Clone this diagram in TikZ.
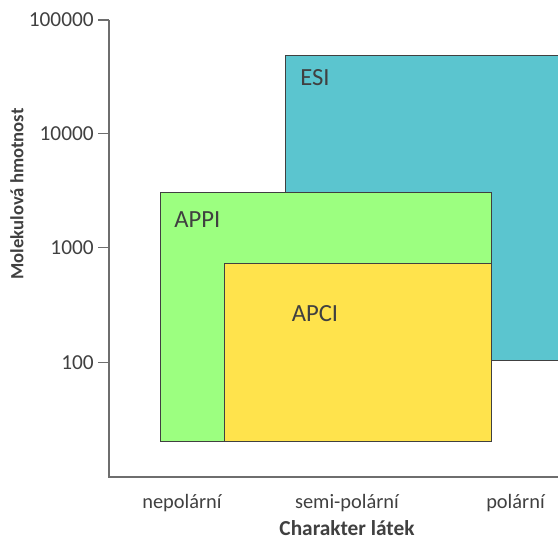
\documentclass[tikz,border=0pt]{standalone}
\usepackage{fontspec}
\setmainfont{Carlito}
\definecolor{esiteal}{RGB}{91,197,207}
\definecolor{appigreen}{RGB}{156,255,128}
\definecolor{apciyellow}{RGB}{255,227,76}
\definecolor{boxline}{RGB}{64,64,64}
\definecolor{axisgray}{RGB}{110,110,110}
\definecolor{textgray}{RGB}{64,64,64}
\tikzset{
  box/.style={draw=boxline, line width=1.1pt},
  axis/.style={draw=axisgray, line width=1.1pt},
  ticklabel/.style={anchor=east, inner sep=0.75pt, font=\fontsize{16}{18}\selectfont, text=textgray},
  catlabel/.style={anchor=base, inner sep=0.75pt, font=\fontsize{15.3}{17}\selectfont, text=textgray},
  boxlabel/.style={anchor=base west, inner sep=0.75pt, font=\fontsize{18.5}{21}\selectfont, text=textgray}
}
\begin{document}
\begin{tikzpicture}[x=0.75pt,y=0.75pt,yscale=-1,xscale=1]
\useasboundingbox (0,0) rectangle (558,539);

%Shape: Rectangle ESI (open on the right)
\fill [esiteal] (285.5,55.5) rectangle (558,360.5);
\draw [box] (558,55.5) -- (285.5,55.5) -- (285.5,360.5) -- (558,360.5);
%Shape: Rectangle APPI
\draw [box, fill=appigreen] (160.5,192.5) rectangle (491.5,441.5);
%Shape: Rectangle APCI
\draw [box, fill=apciyellow] (224.5,263.5) rectangle (491.5,441.5);

%Axes
\coordinate (ytop) at (109,20);
\coordinate (origin) at (109,477);
\coordinate (xend) at (558,477);
\draw [axis] (ytop) -- (origin) -- (xend);
%Ticks
\foreach \val/\ypos in {100000/20,10000/133.5,1000/247.5,100/362.5}{
  \draw [axis] (98,\ypos) -- (109,\ypos);
  \node (tick\val) [ticklabel] at (95,\ypos) {\val};
}

% Text Node
\node (esi) [boxlabel] at (299,85.5) {ESI};
% Text Node
\node (appi) [boxlabel] at (173,227.5) {APPI};
% Text Node
\node (apci) [boxlabel] at (290.5,321) {APCI};

% Text Node
\node (nepol) [catlabel] at (182,508) {nepolární};
% Text Node
\node (semipol) [catlabel] at (347,508) {semi-polární};
% Text Node
\node (pol) [catlabel] at (515.5,508) {polární};
% Text Node
\node (xtitle) [catlabel, font=\bfseries\fontsize{16}{18}\selectfont] at (347,535.5) {Charakter látek};
% Text Node
\node (ytitle) [rotate=90, inner sep=0.75pt, font=\bfseries\fontsize{14}{16}\selectfont, text=textgray] at (17,194) {Molekulová hmotnost};

\end{tikzpicture}
\end{document}
